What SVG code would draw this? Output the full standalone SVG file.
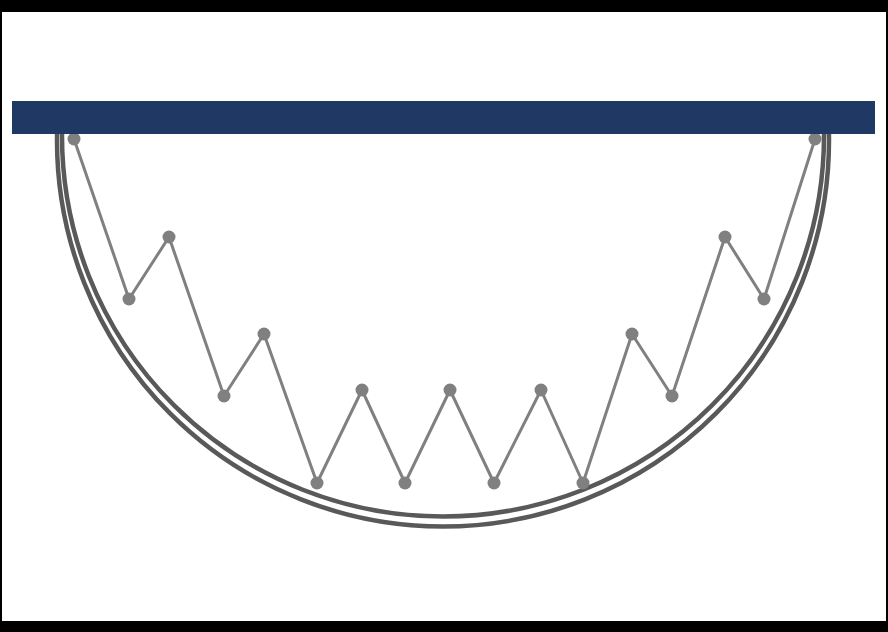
<svg xmlns="http://www.w3.org/2000/svg" width="888" height="632" viewBox="0 0 888 632">
<style>
.arc{fill:none;stroke:#595959;stroke-width:4.5}
.zig{fill:none;stroke:#808080;stroke-width:3;stroke-linejoin:round}
.node{fill:#808080}
</style>
<defs>
<clipPath id="below"><rect x="0" y="130" width="888" height="502"/></clipPath>
</defs>
<rect x="0" y="0" width="888" height="632" fill="#000"/>
<rect x="2" y="12" width="884" height="609" fill="#fff"/>
<g id="bowl" clip-path="url(#below)">
<circle class="arc" cx="443" cy="140.5" r="386"/>
<circle class="arc" cx="443" cy="135.5" r="381"/>
</g>
<g id="connectors">
<polyline class="zig" points="74,139 129,299 169,237 224,396 264,334 317,483 362,390 405,483 450,390 494,483 541,390 583,483 632,334 672,396 725,237 764,299 815,139"/>
</g>
<g id="nodes">
<g id="n1"><circle class="node" cx="74" cy="139" r="6.5"/></g>
<g id="n2"><circle class="node" cx="129" cy="299" r="6.5"/></g>
<g id="n3"><circle class="node" cx="169" cy="237" r="6.5"/></g>
<g id="n4"><circle class="node" cx="224" cy="396" r="6.5"/></g>
<g id="n5"><circle class="node" cx="264" cy="334" r="6.5"/></g>
<g id="n6"><circle class="node" cx="317" cy="483" r="6.5"/></g>
<g id="n7"><circle class="node" cx="362" cy="390" r="6.5"/></g>
<g id="n8"><circle class="node" cx="405" cy="483" r="6.5"/></g>
<g id="n9"><circle class="node" cx="450" cy="390" r="6.5"/></g>
<g id="n10"><circle class="node" cx="494" cy="483" r="6.5"/></g>
<g id="n11"><circle class="node" cx="541" cy="390" r="6.5"/></g>
<g id="n12"><circle class="node" cx="583" cy="483" r="6.5"/></g>
<g id="n13"><circle class="node" cx="632" cy="334" r="6.5"/></g>
<g id="n14"><circle class="node" cx="672" cy="396" r="6.5"/></g>
<g id="n15"><circle class="node" cx="725" cy="237" r="6.5"/></g>
<g id="n16"><circle class="node" cx="764" cy="299" r="6.5"/></g>
<g id="n17"><circle class="node" cx="815" cy="139" r="6.5"/></g>
</g>
<g id="bar"><rect x="12" y="101" width="863" height="33" fill="#203864"/></g>
</svg>
